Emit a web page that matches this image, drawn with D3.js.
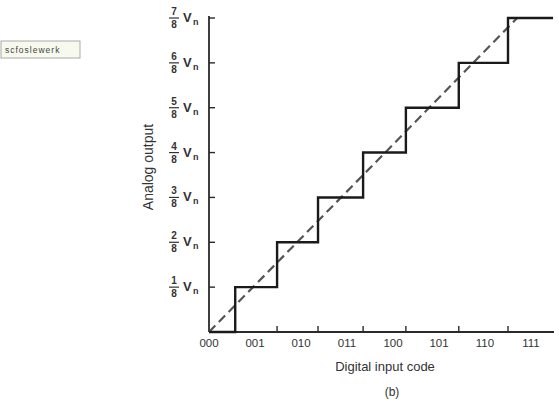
<!DOCTYPE html>
<html>
<head>
<meta charset="utf-8">
<script src="https://cdn.jsdelivr.net/npm/d3@7"></script>
<style>
  body { margin: 0; background: #fff; }
  svg { display: block; font-family: "Liberation Sans", Arial, sans-serif; }
</style>
</head>
<body>
<svg id="chart" width="559" height="403"></svg>
<script>
// codes on the x axis
const codes = ['000', '001', '010', '011', '100', '101', '110', '111'];
// output level (in eighths) for each code
const levels = [0, 1, 2, 3, 4, 5, 6, 7];
// where each code's step starts / ends, in code units
const stepEdges = [0, 0.57, 1.48, 2.37, 3.35, 4.28, 5.43, 6.5, 7.48];
// ideal (dashed) transfer line
const idealLine = [[0, 0], [6.7, 7.0]];
// y tick labels
const yNumerators = ['1', '2', '3', '4', '5', '6', '7'];

const svg = d3.select('#chart');
const color = '#2a2a2a';

const x = d3.scaleLinear().domain([0, 7.5]).range([209, 554]);
const y = d3.scaleLinear().domain([0, 7]).range([332, 18]);

// staircase points
const stair = [];
levels.forEach((lv, i) => {
  stair.push([stepEdges[i], lv]);
  stair.push([stepEdges[i + 1], lv]);
});

// axes
svg.append('line')
  .attr('x1', x(0)).attr('y1', y(0))
  .attr('x2', x(0)).attr('y2', y(7) - 2)
  .attr('stroke', color).attr('stroke-width', 1.8);
svg.append('line')
  .attr('x1', x(0)).attr('y1', y(0))
  .attr('x2', x(7.5)).attr('y2', y(0))
  .attr('stroke', color).attr('stroke-width', 1.8);

// y ticks
svg.selectAll('.ytick')
  .data(yNumerators)
  .enter()
  .append('line')
  .attr('x1', x(0)).attr('x2', x(0) + 6)
  .attr('y1', (d, i) => y(i + 1)).attr('y2', (d, i) => y(i + 1))
  .attr('stroke', color).attr('stroke-width', 1.4);

// x ticks at the step edges
svg.selectAll('.xtick')
  .data(stepEdges.slice(2, 8))
  .enter()
  .append('line')
  .attr('x1', d => x(d)).attr('x2', d => x(d))
  .attr('y1', y(0)).attr('y2', y(0) - 6)
  .attr('stroke', color).attr('stroke-width', 1.4);

// ideal dashed line
svg.append('path')
  .attr('d', d3.line().x(d => x(d[0])).y(d => y(d[1]))(idealLine))
  .attr('fill', 'none')
  .attr('stroke', '#555')
  .attr('stroke-width', 2.2)
  .attr('stroke-dasharray', '9,5');

// staircase
svg.append('path')
  .attr('d', d3.line().x(d => x(d[0])).y(d => y(d[1]))(stair))
  .attr('fill', 'none')
  .attr('stroke', '#1a1a1a')
  .attr('stroke-width', 2.4);

// y tick labels: fraction k/8 then V with subscript
const lab = svg.selectAll('.ylab')
  .data(yNumerators)
  .enter()
  .append('g')
  .attr('transform', (d, i) => `translate(174, ${y(i + 1)})`)
  .attr('fill', '#333');

lab.append('text')
  .attr('text-anchor', 'middle')
  .attr('y', -3)
  .attr('font-size', 10)
  .attr('font-weight', 'bold')
  .text(d => d);
lab.append('line')
  .attr('x1', -5).attr('x2', 5)
  .attr('y1', 0).attr('y2', 0)
  .attr('stroke', '#333').attr('stroke-width', 1.2);
lab.append('text')
  .attr('text-anchor', 'middle')
  .attr('y', 10)
  .attr('font-size', 10)
  .attr('font-weight', 'bold')
  .text('8');
lab.append('text')
  .attr('x', 9)
  .attr('y', 4)
  .attr('font-size', 13)
  .attr('font-weight', 'bold')
  .text('V');
lab.append('text')
  .attr('x', 19)
  .attr('y', 7)
  .attr('font-size', 9)
  .attr('font-weight', 'bold')
  .text('n');

// x tick labels
svg.selectAll('.xlab')
  .data(codes)
  .enter()
  .append('text')
  .attr('x', (d, i) => x(i))
  .attr('y', 347)
  .attr('text-anchor', 'middle')
  .attr('font-size', 11.5)
  .attr('fill', '#333')
  .text(d => d);

// axis titles
svg.append('text')
  .attr('transform', 'translate(153, 167) rotate(-90)')
  .attr('text-anchor', 'middle')
  .attr('font-size', 14)
  .attr('fill', '#333')
  .text('Analog output');

svg.append('text')
  .attr('x', 385)
  .attr('y', 371)
  .attr('text-anchor', 'middle')
  .attr('font-size', 13)
  .attr('fill', '#333')
  .text('Digital input code');

svg.append('text')
  .attr('x', 392)
  .attr('y', 396)
  .attr('text-anchor', 'middle')
  .attr('font-size', 12)
  .attr('fill', '#333')
  .text('(b)');

// little boxed note top left
svg.append('rect')
  .attr('x', 1).attr('y', 41)
  .attr('width', 79).attr('height', 17)
  .attr('fill', '#f7f9ee')
  .attr('stroke', '#aaa');
svg.append('text')
  .attr('x', 5).attr('y', 53)
  .attr('font-size', 8.5)
  .attr('letter-spacing', 1)
  .attr('fill', '#444')
  .text('scfoslewerk');
</script>
</body>
</html>
